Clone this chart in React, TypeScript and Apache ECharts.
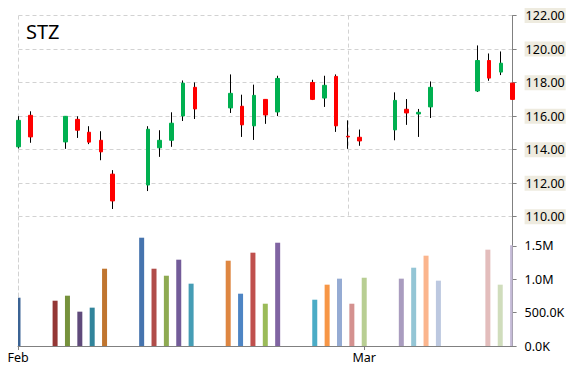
import React, { useEffect, useRef } from 'react';
import * as echarts from 'echarts';

// ---- data ----
const title = 'STZ';
// trading day offsets (calendar days) of each session
const tradingDays = [0, 1, 4, 5, 6, 7, 8, 11, 12, 13, 14, 15, 18, 19, 20, 21, 22, 25, 26, 27, 28, 29, 32, 33, 34, 35, 39, 40, 41, 42];
const opens = [114.17, 116.05, 114.46, 115.81, 115.04, 114.56, 112.54, 111.89, 114.11, 114.56, 116.01, 117.72, 116.49, 116.59, 115.42, 117.0, 116.25, 118.01, 117.08, 118.37, 114.8, 114.74, 115.18, 116.41, 116.13, 116.55, 117.5, 119.32, 118.63, 117.97];
const closes = [115.75, 114.76, 115.99, 115.16, 114.45, 113.87, 110.94, 115.22, 114.56, 115.58, 117.97, 116.43, 117.36, 115.48, 117.24, 116.07, 118.25, 117.0, 117.84, 115.42, 114.76, 114.52, 116.94, 116.19, 116.23, 117.72, 119.32, 118.27, 119.16, 117.0];
const lows = [114.07, 114.41, 114.05, 114.7, 114.33, 113.37, 110.46, 111.53, 113.57, 114.17, 115.71, 115.83, 116.19, 114.76, 114.58, 115.54, 116.01, 116.96, 116.55, 115.06, 114.05, 114.23, 114.56, 115.48, 114.76, 115.89, 117.44, 118.11, 118.45, 117.0];
const highs = [116.0, 116.29, 116.0, 115.99, 115.4, 115.1, 112.78, 115.4, 115.16, 116.23, 118.13, 118.01, 118.49, 117.28, 117.88, 117.0, 118.41, 118.17, 118.41, 118.49, 115.75, 115.2, 117.42, 117.02, 116.43, 118.07, 120.22, 119.74, 119.86, 117.97];
const volumes: (number | null)[] = [null, 723000, 678000, 753000, 514000, 574000, 1157000, 1621000, 1157000, 1052000, 1292000, 933000, 1277000, 783000, 1397000, 633000, 1546000, 693000, 918000, 1008000, 633000, 1022000, 1008000, 1172000, 1352000, 978000, 1442000, 918000, 1507000, null];
const volumeColors: (string | null)[] = [null, '#3B6394', '#943735', '#76923C', '#5F4A7B', '#31849B', '#C0752F', '#4674AE', '#B04C49', '#8EAA52', '#735C99', '#459DB5', '#DE8641', '#4E85C4', '#C0504D', '#9BBB59', '#8064A2', '#4BACC6', '#F79646', '#95ABD3', '#D4918F', '#B8CE93', '#A99CBF', '#94C5D5', '#FBB58D', '#BCC8E0', '#E3BDBC', '#D0DDBC', '#C4BAD6', null];
const monthTicks = [1, 29];
const monthLabels = ['Feb', 'Mar'];
const priceMin = 110;
const priceMax = 122;
const priceStep = 2;
const volumeTicks = [0, 500000, 1000000, 1500000];
const volumeMax = 1931000;

const FONT = "'Noto Sans', 'Liberation Sans', sans-serif";
const GRID_LINE = { color: '#D2D2D2', type: [4, 3] as number[], width: 1 };
const AXIS_COLOR = '#808080';
const BAR_W = 5;

function fmtVolume(v: number): string {
  if (v === 0) return '0.0K';
  if (v < 1000000) return (v / 1000).toFixed(1) + 'K';
  return (v / 1000000).toFixed(1) + 'M';
}

export default function App() {
  const ref = useRef<HTMLDivElement>(null);
  useEffect(() => {
    document.body.style.margin = '0';
    const chart = echarts.init(ref.current!, undefined, { renderer: 'svg' });
    const wickData = tradingDays.map((d, i) => [d, opens[i], closes[i], lows[i], highs[i]]);
    const bodyData = tradingDays.map((d, i) => [d, opens[i], closes[i], Math.min(opens[i], closes[i]), Math.max(opens[i], closes[i])]);
    const volData: any[] = [];
    tradingDays.forEach((d, i) => {
      const v = volumes[i];
      if (v != null) volData.push({ value: [d, v], itemStyle: { color: volumeColors[i] } });
    });
    chart.setOption({
      animation: false,
      backgroundColor: '#ffffff',
      title: {
        text: title,
        left: 21,
        top: 16,
        textStyle: { fontSize: 20, fontWeight: 'normal', color: '#000', fontFamily: FONT },
      },
      grid: [
        { left: 18.5, right: 57.4, top: 15.6, height: 201.1 },
        { left: 18, right: 57.4, top: 217, bottom: 24 },
      ],
      xAxis: [
        {
          type: 'value', gridIndex: 0, min: 0, max: 42, interval: 28,
          axisLine: { show: false, onZero: false }, axisTick: { show: false }, axisLabel: { show: false },
          splitLine: { show: true, lineStyle: GRID_LINE },
        },
        {
          type: 'value', gridIndex: 1, min: 1, max: 41,
          axisLine: { show: true, onZero: false, lineStyle: { color: AXIS_COLOR } },
          axisTick: { show: true, customValues: monthTicks, length: 4, lineStyle: { color: AXIS_COLOR } },
          axisLabel: {
            customValues: monthTicks,
            formatter: (v: number) => monthLabels[monthTicks.indexOf(v)] ?? '',
            margin: 5, color: '#000', fontSize: 12.5, fontFamily: FONT,
          },
          splitLine: { show: false },
        },
      ],
      yAxis: [
        {
          type: 'value', gridIndex: 0, position: 'right', min: priceMin, max: priceMax, interval: priceStep,
          axisLine: { show: true, onZero: false, lineStyle: { color: AXIS_COLOR } },
          axisTick: { show: true, length: 4, lineStyle: { color: AXIS_COLOR } },
          axisLabel: {
            formatter: (v: number) => v.toFixed(2),
            margin: 12, color: '#000', fontSize: 12.5, fontFamily: FONT,
            backgroundColor: '#EEEBDF', padding: [2, 1, 0, 1],
          },
          splitLine: { show: true, lineStyle: GRID_LINE },
        },
        {
          type: 'value', gridIndex: 1, position: 'right', min: 0, max: volumeMax,
          axisLine: { show: true, onZero: false, lineStyle: { color: AXIS_COLOR } },
          axisTick: { show: true, customValues: volumeTicks, length: 4, lineStyle: { color: AXIS_COLOR } },
          axisLabel: {
            customValues: volumeTicks,
            formatter: (v: number) => fmtVolume(v),
            margin: 12, color: '#000', fontSize: 12.5, fontFamily: FONT,
          },
          splitLine: { show: false },
        },
        {
          type: 'value', gridIndex: 1, position: 'left', min: 0, max: volumeMax,
          axisLine: { show: true, onZero: false, lineStyle: GRID_LINE },
          axisTick: { show: false }, axisLabel: { show: false }, splitLine: { show: false },
        },
      ],
      series: [
        {
          type: 'candlestick', name: 'wick', xAxisIndex: 0, yAxisIndex: 0,
          encode: { x: 0, y: [1, 2, 3, 4] },
          barWidth: 0.5,
          data: wickData,
          itemStyle: { color: '#000', color0: '#000', borderColor: '#000', borderColor0: '#000', borderWidth: 1 },
          z: 2,
        },
        {
          type: 'candlestick', name: 'body', xAxisIndex: 0, yAxisIndex: 0,
          encode: { x: 0, y: [1, 2, 3, 4] },
          barWidth: 4,
          data: bodyData,
          itemStyle: { color: '#00B050', color0: '#FF0000', borderColor: '#00B050', borderColor0: '#FF0000', borderWidth: 1 },
          z: 3,
        },
        {
          type: 'custom', name: 'volume', xAxisIndex: 1, yAxisIndex: 1,
          encode: { x: 0, y: 1 },
          data: volData,
          renderItem: (params: any, api: any) => {
            const top = api.coord([api.value(0), api.value(1)]);
            const base = api.coord([api.value(0), 0]);
            const cs = params.coordSys;
            const rect = echarts.graphic.clipRectByRect(
              { x: top[0] - BAR_W / 2, y: top[1], width: BAR_W, height: base[1] - top[1] },
              { x: cs.x, y: cs.y, width: cs.width, height: cs.height }
            );
            if (!rect) return null;
            return { type: 'rect', shape: rect, style: { fill: api.visual('color') } };
          },
          z: 2,
        },
      ],
    });
    return () => chart.dispose();
  }, []);
  return <div ref={ref} style={{ width: 570, height: 370, position: 'fixed', left: 0, top: 0 }} />;
}
